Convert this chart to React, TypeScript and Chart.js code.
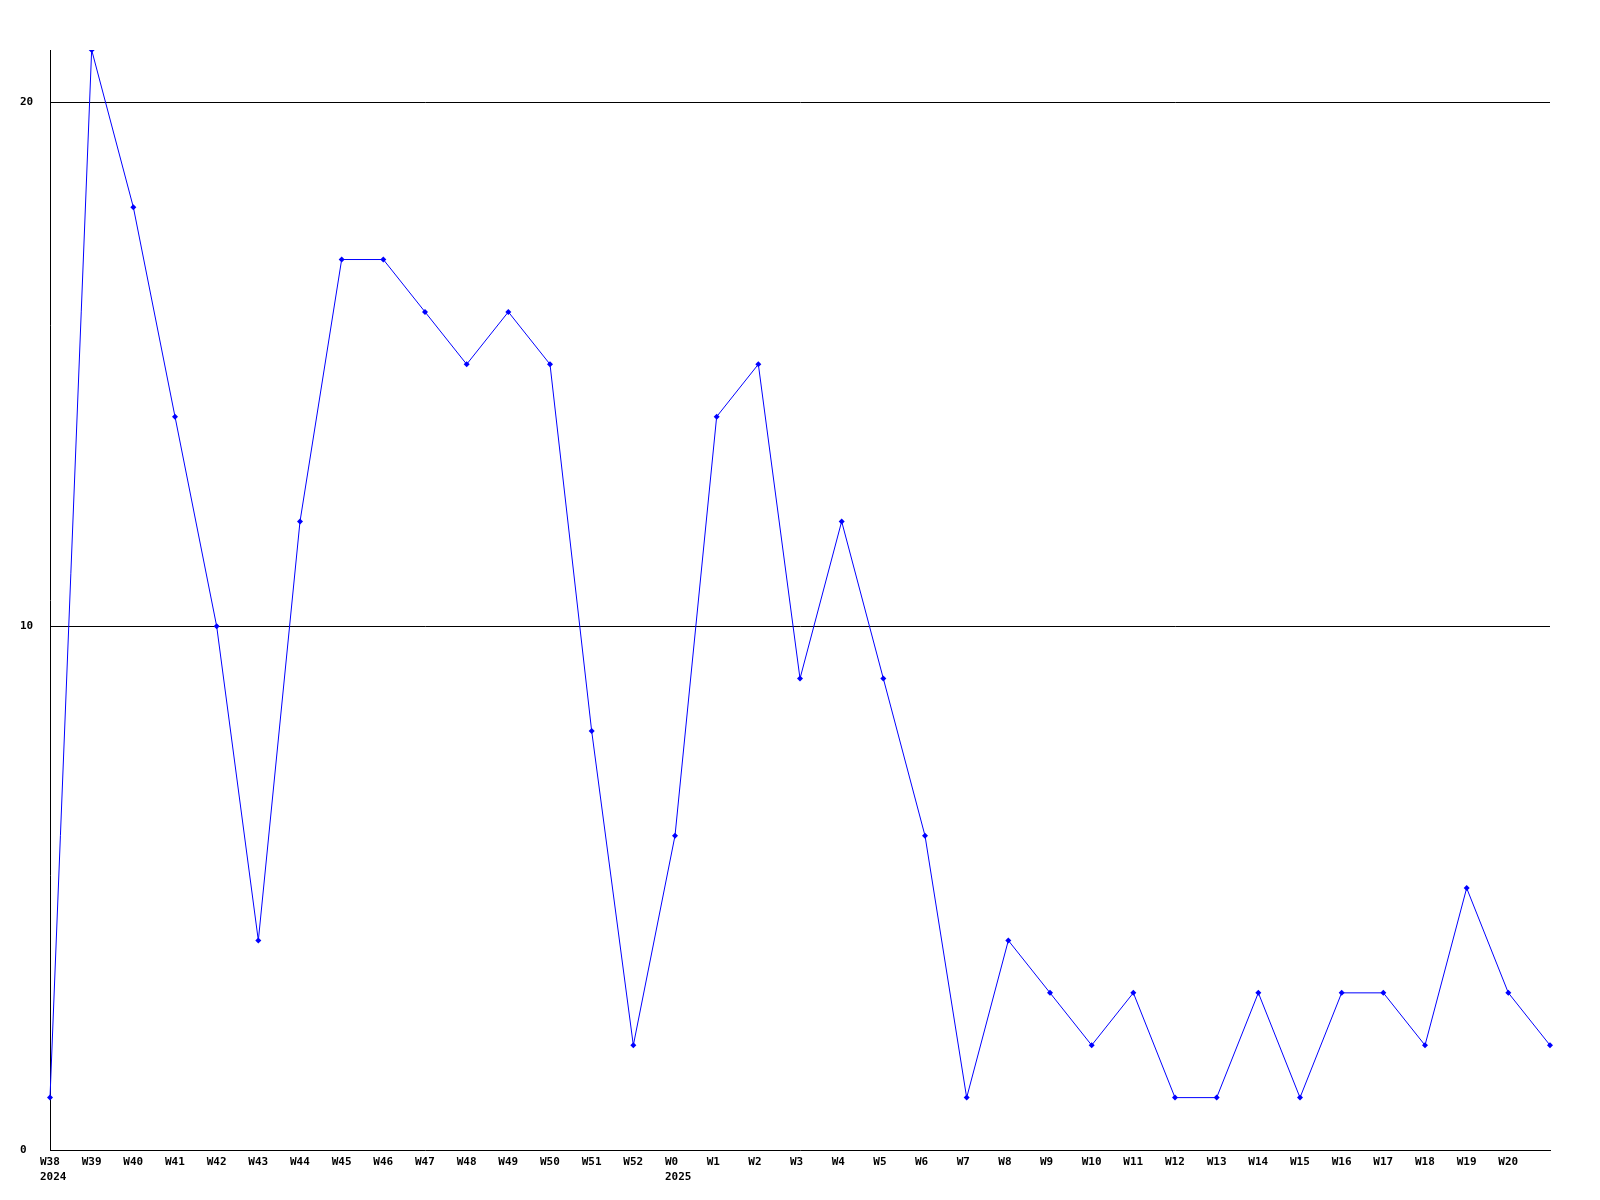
import React, { useEffect, useRef } from "react";
import { Chart, registerables } from "chart.js";

Chart.register(...registerables);

const weekLabels: (string | string[])[] = [
  ["W38", "2024"], "W39", "W40", "W41", "W42", "W43", "W44", "W45", "W46", "W47", "W48", "W49", "W50", "W51", "W52",
  ["W0", "2025"], "W1", "W2", "W3", "W4", "W5", "W6", "W7", "W8", "W9", "W10", "W11", "W12", "W13", "W14", "W15",
  "W16", "W17", "W18", "W19", "W20", "",
];

const counts: number[] = [
  1, 21, 18, 14, 10, 4, 12, 17, 17, 16, 15, 16, 15, 8, 2,
  6, 14, 15, 9, 12, 9, 6, 1, 4, 3, 2, 3, 1, 1, 3, 1,
  3, 3, 2, 5, 3, 2,
];

const yTickValues: number[] = [0, 10, 20];
const yMax = 21;

export default function App() {
  const ref = useRef<HTMLCanvasElement | null>(null);

  useEffect(() => {
    if (!ref.current) return;
    const font = { family: "'DejaVu Sans Mono', monospace", size: 11, weight: "bold" as const, lineHeight: "15px" };
    const chart = new Chart(ref.current, {
      type: "line",
      data: {
        labels: weekLabels,
        datasets: [
          {
            data: counts,
            borderColor: "#0000ff",
            backgroundColor: "#0000ff",
            borderWidth: 1,
            pointStyle: "rectRot",
            pointRadius: 3,
            pointBorderWidth: 0,
            tension: 0,
            fill: false,
          },
        ],
      },
      options: {
        animation: false,
        responsive: false,
        layout: { padding: { left: 20, right: 50, top: 50, bottom: 0 } },
        plugins: { legend: { display: false }, tooltip: { enabled: false } },
        scales: {
          x: {
            offset: false,
            grid: { display: false, drawTicks: false },
            border: { display: true, color: "#000000", width: 1 },
            ticks: {
              autoSkip: false,
              maxRotation: 0,
              minRotation: 0,
              align: "start",
              labelOffset: -10,
              padding: 5,
              color: "#000000",
              font,
            },
            afterFit: (s: any) => {
              s.height = 50;
            },
          },
          y: {
            min: 0,
            max: yMax,
            grid: {
              drawTicks: false,
              color: (ctx: any) => (ctx.tick && ctx.tick.value > 0 && ctx.tick.value <= 20 ? "#000000" : "rgba(0,0,0,0)"),
              lineWidth: 1,
            },
            border: { display: true, color: "#000000", width: 1 },
            afterBuildTicks: (s: any) => {
              s.ticks = yTickValues.map((v) => ({ value: v }));
            },
            ticks: {
              crossAlign: "far",
              padding: 4,
              color: "#000000",
              font,
            },
            afterFit: (s: any) => {
              s.width = 30;
            },
          },
        },
      },
    });
    return () => chart.destroy();
  }, []);

  return (
    <div style={{ position: "fixed", left: 0, top: 0, width: 1600, height: 1200, background: "#ffffff" }}>
      <canvas ref={ref} width={1600} height={1200} style={{ width: 1600, height: 1200, display: "block" }} />
    </div>
  );
}
